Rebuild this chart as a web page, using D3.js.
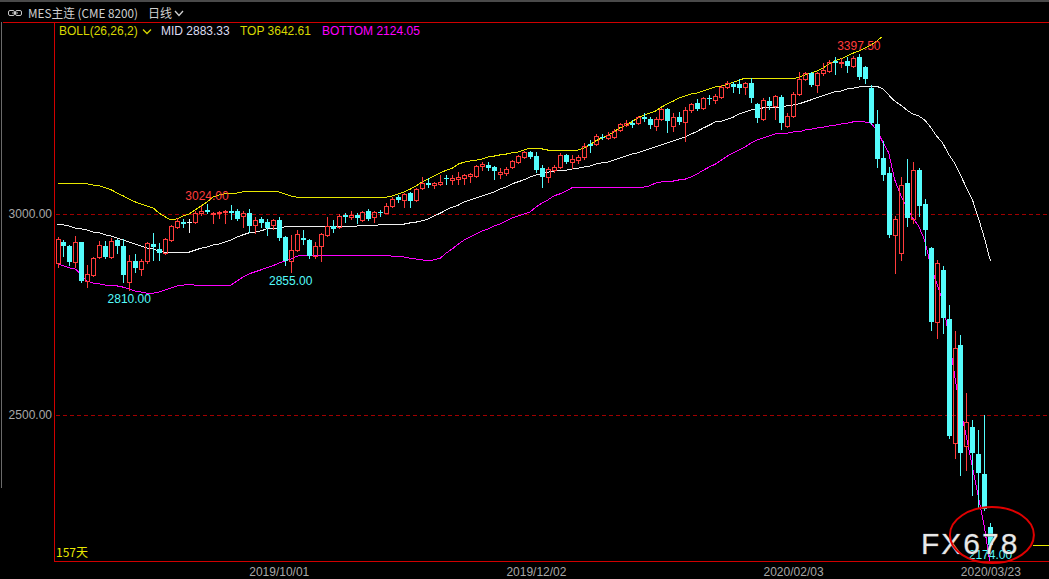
<!DOCTYPE html>
<html><head><meta charset="utf-8">
<script src="https://cdn.jsdelivr.net/npm/d3@7/dist/d3.min.js"></script>
<style>html,body{margin:0;padding:0;background:#000;overflow:hidden}</style>
</head><body><svg id="c" width="1049" height="579"></svg>
<script>
// ---------- DATA (MES daily, 157 bars) ----------
const openP = [2878,2930,2920,2881,2930,2833,2848,2893,2920,2893,
 2935,2920,2831,2883,2863,2883,2925,2913,2903,2935,
 2968,2980,2980,2980,3002,3010,3000,3003,3005,3008,
 3007,2995,3003,2973,2988,2980,2973,2985,2943,2883,
 2910,2940,2935,2895,2920,2948,2970,2968,2997,2992,
 2998,2985,3007,2993,3005,3003,3020,3042,3035,3052,
 3035,3065,3077,3072,3075,3090,3085,3087,3090,3095,
 3095,3119,3122,3117,3100,3102,3117,3129,3142,3154,
 3144,3114,3092,3109,3117,3147,3129,3134,3142,3174,
 3174,3192,3189,3192,3209,3221,3226,3226,3241,3236,
 3219,3236,3261,3219,3241,3229,3259,3276,3264,3289,
 3284,3291,3316,3323,3323,3316,3326,3274,3236,3281,
 3269,3291,3219,3244,3299,3336,3351,3321,3351,3356,
 3381,3376,3381,3369,3391,3366,3313,3224,3139,3102,
 2948,2903,3077,2988,3109,3025,2915,2731,2861,2739,
 2430,2674,2423,2470,2403,2353,2221];
const highP = [2943,2935,2923,2945,2931,2873,2893,2933,2933,2940,
 2938,2938,2898,2900,2888,2930,2953,2928,2940,2973,
 2990,2988,2988,3007,3021,3024,3004,3008,3010,3022,
 3012,3008,3012,2993,2993,2988,2988,2993,2945,2948,
 2960,2960,2938,2930,2953,2993,2985,3000,3002,3008,
 3002,3008,3012,3007,3010,3027,3042,3047,3052,3054,
 3065,3092,3090,3080,3097,3097,3097,3104,3099,3102,
 3122,3129,3129,3119,3114,3117,3134,3147,3157,3157,
 3154,3122,3117,3122,3152,3149,3147,3147,3177,3184,
 3199,3199,3204,3211,3226,3234,3234,3244,3251,3241,
 3241,3264,3264,3251,3254,3266,3276,3286,3291,3296,
 3298,3321,3331,3328,3336,3328,3338,3276,3289,3291,
 3296,3296,3251,3303,3353,3353,3353,3353,3376,3383,
 3390,3388,3390,3393,3397.5,3369,3321,3259,3182,3117,
 2995,3092,3137,3129,3114,3037,2918,2886,2871,2774,
 2709,2699,2555,2488,2463,2500,2231];
const lowP = [2868,2896,2873,2868,2831,2818,2846,2890,2890,2890,
 2903,2831,2810,2856,2848,2878,2886,2886,2900,2933,
 2965,2968,2955,2978,2998,3002,2978,2990,2978,2988,
 2985,2968,2955,2953,2968,2948,2963,2935,2873,2855,
 2908,2925,2890,2890,2883,2945,2955,2965,2980,2988,
 2978,2983,2985,2980,2995,3002,3017,3030,3017,3017,
 3032,3062,3067,3065,3072,3075,3075,3075,3075,3080,
 3092,3109,3109,3087,3089,3097,3114,3127,3139,3139,
 3104,3067,3080,3104,3114,3127,3114,3127,3137,3154,
 3172,3186,3186,3189,3206,3219,3216,3224,3231,3214,
 3209,3234,3204,3206,3224,3182,3254,3259,3261,3274,
 3276,3288,3313,3303,3301,3298,3279,3229,3234,3261,
 3236,3211,3216,3241,3296,3333,3318,3303,3346,3353,
 3348,3366,3353,3366,3336,3326,3224,3117,3085,2943,
 2853,2886,2970,2978,2995,2898,2711,2691,2704,2443,
 2393,2351,2363,2300,2268,2264,2174];
const closeP = [2938,2920,2881,2930,2833,2851,2890,2923,2893,2933,
 2920,2848,2883,2866,2883,2928,2918,2903,2938,2970,
 2983,2975,2980,3002,3008,3005,3003,3005,3008,3003,
 2988,3003,2970,2985,2978,2965,2985,2940,2883,2910,
 2950,2935,2895,2920,2950,2970,2963,2995,2992,2998,
 2990,3005,2988,3005,3003,3020,3037,3035,3050,3032,
 3062,3077,3072,3077,3079,3087,3090,3092,3097,3100,
 3119,3124,3114,3107,3104,3112,3132,3144,3154,3142,
 3109,3092,3112,3117,3147,3129,3137,3142,3169,3169,
 3194,3189,3197,3206,3224,3226,3221,3241,3236,3221,
 3236,3261,3231,3241,3229,3259,3274,3261,3289,3286,
 3294,3316,3326,3316,3313,3326,3289,3239,3284,3269,
 3294,3226,3244,3299,3336,3351,3321,3351,3358,3378,
 3376,3378,3369,3388,3341,3336,3226,3137,3097,2948,
 2988,3072,2990,3109,3020,2960,2731,2878,2741,2448,
 2667,2405,2482,2405,2356,2266,2177];
const bollMid = [2975,2973,2970,2965,2963,2960,2955,2953,2948,2945,
 2940,2935,2930,2925,2920,2915,2913,2908,2905,2903,
 2903,2903,2905,2910,2915,2918,2923,2925,2930,2935,
 2943,2948,2953,2955,2958,2963,2965,2965,2968,2968,
 2970,2970,2970,2970,2970,2970,2970,2970,2970,2970,
 2970,2971,2972,2972,2973,2973,2973,2975,2975,2978,
 2980,2983,2988,2995,3002,3010,3017,3022,3030,3035,
 3040,3045,3050,3055,3062,3067,3075,3080,3085,3092,
 3097,3100,3104,3107,3109,3109,3112,3114,3117,3119,
 3124,3127,3129,3134,3139,3144,3149,3152,3157,3162,
 3167,3172,3177,3182,3187,3192,3199,3206,3214,3221,
 3229,3231,3236,3241,3249,3254,3259,3261,3264,3264,
 3266,3266,3269,3271,3274,3279,3284,3289,3294,3299,
 3304,3306,3311,3313,3316,3316,3318,3318,3311,3296,
 3281,3271,3259,3249,3244,3234,3216,3194,3177,3149,
 3127,3097,3065,3035,2990,2940,2883.33];
const bollTop = [3077,3077,3077,3077,3077,3075,3072,3070,3065,3060,
 3052,3045,3037,3030,3025,3020,3015,3002,2993,2985,
 2988,2995,3000,3010,3020,3030,3042,3047,3050,3052,
 3052,3055,3055,3055,3057,3057,3057,3055,3050,3045,
 3042,3042,3042,3042,3042,3042,3042,3042,3042,3042,
 3042,3042,3042,3042,3042,3042,3045,3050,3055,3062,
 3070,3080,3087,3095,3102,3109,3114,3124,3129,3132,
 3134,3137,3142,3144,3147,3149,3152,3154,3159,3164,
 3164,3162,3159,3157,3157,3157,3157,3159,3164,3172,
 3182,3189,3196,3204,3214,3221,3229,3239,3246,3251,
 3256,3266,3274,3281,3289,3294,3299,3301,3306,3311,
 3316,3318,3323,3328,3333,3338,3338,3338,3336,3336,
 3336,3336,3336,3336,3341,3346,3351,3356,3363,3373,
 3381,3386,3393,3400,3405,3413,3420,3430,3443,3460,
 3480,3495,3505,3512,3515,3525,3545,3560,3570,3590,
 3600,3612,3620,3628,3636,3640,3642.61];
const bollBottom = [2876,2871,2866,2863,2848,2833,2828,2826,2823,2821,
 2821,2818,2813,2808,2806,2803,2803,2806,2811,2816,
 2821,2823,2826,2823,2821,2821,2821,2821,2823,2823,
 2833,2843,2851,2856,2861,2866,2871,2878,2883,2888,
 2895,2898,2898,2898,2898,2898,2898,2898,2898,2898,
 2898,2898,2898,2898,2898,2898,2895,2895,2893,2890,
 2888,2886,2883,2886,2890,2903,2913,2925,2935,2943,
 2950,2958,2963,2970,2975,2983,2990,2995,3000,3005,
 3017,3027,3035,3045,3050,3057,3065,3067,3067,3067,
 3067,3067,3067,3067,3067,3067,3067,3067,3067,3070,
 3077,3080,3082,3082,3085,3087,3092,3100,3109,3117,
 3124,3134,3144,3152,3159,3167,3177,3184,3189,3194,
 3199,3201,3201,3204,3204,3209,3211,3214,3216,3219,
 3221,3224,3226,3229,3229,3229,3226,3209,3179,3152,
 3085,3047,3017,2990,2970,2935,2873,2828,2786,2699,
 2600,2512,2445,2371,2296,2221,2124.05];
const yTicks = [2500, 3000];
const dateTickIdx = [37, 80, 123, 156];
const dateTickLabels = ["2019/10/01", "2019/12/02", "2020/02/03", "2020/03/23"];
const highMarkIdx = [25, 134];
const lowMarkIdx = [12, 39, 156];
const bollParams = "BOLL(26,26,2)";
const titleText = "MES主连 (CME 8200)";
const periodText = "日线";
const dayCount = "157天";

// ---------- DRAW ----------
const W = 1049, H = 579;
const P = {l: 54, t: 22, r: 1049, b: 561, clipTop: 37};
const N = openP.length;
const RED = "#ff3c3c", CYAN = "#54fcfc", FONT = '"Liberation Sans", Arial, sans-serif';
const x = d3.scaleLinear().domain([0, N - 1]).range([57.5, 990.4]);
const y = d3.scaleLinear().domain([2500, 3000]).range([415, 214]);
const fmt = d3.format(".2f");

const svg = d3.select("#c").style("font-family", FONT);
svg.append("rect").attr("width", W).attr("height", H).attr("fill", "#000");
svg.append("rect").attr("x", 0).attr("y", 0).attr("width", W).attr("height", 2).attr("fill", "#4a4a4a");

// title bar
const tb = svg.append("g").attr("stroke", "#c8c8c8").attr("fill", "none").attr("stroke-width", 1);
tb.append("rect").attr("x", 8.5).attr("y", 10.5).attr("width", 6).attr("height", 5).attr("rx", 1.5);
tb.append("rect").attr("x", 15.5).attr("y", 10.5).attr("width", 6).attr("height", 5).attr("rx", 1.5);
tb.append("line").attr("x1", 12).attr("x2", 18).attr("y1", 13).attr("y2", 13);
svg.append("text").attr("x", 28).attr("y", 18).attr("fill", "#d0d0d0")
  .attr("textLength", 110).attr("lengthAdjust", "spacingAndGlyphs")
  .style("font", '12px "Noto Sans CJK SC", sans-serif').text(titleText);
svg.append("text").attr("x", 148).attr("y", 18).attr("fill", "#d0d0d0")
  .style("font", '12px "Noto Sans CJK SC", sans-serif').text(periodText);
svg.append("path").attr("d", "M175,11 L179,15.5 L183,11").attr("stroke", "#d0d0d0").attr("fill", "none").attr("stroke-width", 1.3);

// frame
svg.append("line").attr("x1", 1.5).attr("x2", 1.5).attr("y1", 22).attr("y2", 488).attr("stroke", "#6a6a6a");
svg.append("line").attr("x1", 3).attr("x2", W).attr("y1", 22.5).attr("y2", 22.5).attr("stroke", "#d00000");
svg.append("line").attr("x1", P.l + 0.5).attr("x2", P.l + 0.5).attr("y1", 22).attr("y2", P.b + 1).attr("stroke", "#d00000");
svg.append("line").attr("x1", P.l).attr("x2", W).attr("y1", P.b + 0.5).attr("y2", P.b + 0.5).attr("stroke", "#d00000");

// grid
svg.append("g").selectAll("line").data(yTicks).join("line")
  .attr("x1", P.l + 2).attr("x2", P.r)
  .attr("y1", d => Math.round(y(d)) + 0.5).attr("y2", d => Math.round(y(d)) + 0.5)
  .attr("stroke", "#a00000").attr("stroke-dasharray", "4,3");

// axes
const gy = svg.append("g").attr("transform", "translate(53,0)")
  .call(d3.axisLeft(y).tickValues(yTicks).tickFormat(fmt).tickSize(0).tickPadding(1));
gy.select(".domain").remove();
gy.selectAll("text").attr("fill", "#a8a8a8").style("font", "12px " + FONT);

const gx = svg.append("g").attr("transform", `translate(0,${P.b})`)
  .call(d3.axisBottom(x).tickValues(dateTickIdx).tickFormat((d, i) => dateTickLabels[i]).tickSize(0).tickPadding(6));
gx.select(".domain").remove();
gx.selectAll("text").attr("fill", "#a8a8a8").style("font", "12px " + FONT);

// clip
svg.append("clipPath").attr("id", "clip").append("rect")
  .attr("x", P.l + 1).attr("y", P.clipTop).attr("width", P.r - P.l).attr("height", P.b - P.clipTop);
const plot = svg.append("g").attr("clip-path", "url(#clip)");

// bollinger lines
const idx = d3.range(N);
const lineOf = arr => d3.line().x(i => x(i)).y(i => y(arr[i]))(idx);
[[bollTop, "#e8e800"], [bollMid, "#f0f0f0"], [bollBottom, "#ff00ff"]].forEach(([arr, col]) => {
  plot.append("path").attr("d", lineOf(arr)).attr("fill", "none").attr("stroke", col)
    .attr("stroke-width", 1).attr("shape-rendering", "crispEdges");
});

// candles
const cg = plot.append("g").attr("shape-rendering", "crispEdges");
idx.forEach(i => {
  const o = openP[i], h = highP[i], l = lowP[i], c = closeP[i];
  const cx = Math.round(x(i));
  const yH = Math.round(y(h)), yL = Math.round(y(l));
  const yT = Math.round(y(Math.max(o, c))), yB = Math.round(y(Math.min(o, c)));
  if (c > o) {
    cg.append("line").attr("x1", cx + 0.5).attr("x2", cx + 0.5).attr("y1", yH).attr("y2", yT).attr("stroke", RED);
    cg.append("line").attr("x1", cx + 0.5).attr("x2", cx + 0.5).attr("y1", yB).attr("y2", yL + 1).attr("stroke", RED);
    cg.append("rect").attr("x", cx - 1.5).attr("y", yT + 0.5).attr("width", 4).attr("height", Math.max(yB - yT, 1))
      .attr("fill", "none").attr("stroke", RED);
  } else if (c < o) {
    cg.append("line").attr("x1", cx + 0.5).attr("x2", cx + 0.5).attr("y1", yH).attr("y2", yL + 1).attr("stroke", CYAN);
    cg.append("rect").attr("x", cx - 2).attr("y", yT).attr("width", 5).attr("height", Math.max(yB - yT, 1)).attr("fill", CYAN);
  } else {
    cg.append("line").attr("x1", cx + 0.5).attr("x2", cx + 0.5).attr("y1", yH).attr("y2", yL + 1).attr("stroke", "#f0f0f0");
    cg.append("line").attr("x1", cx - 2).attr("x2", cx + 3).attr("y1", yT + 0.5).attr("y2", yT + 0.5).attr("stroke", "#f0f0f0");
  }
});

// last price marker
svg.append("line").attr("x1", 1033).attr("x2", W).attr("y1", Math.round(y(closeP[N - 1])) + 0.5).attr("y2", Math.round(y(closeP[N - 1])) + 0.5)
  .attr("stroke", "#e8e800");

// extreme labels
svg.append("g").selectAll("text").data(highMarkIdx).join("text")
  .attr("x", i => x(i)).attr("y", i => y(highP[i]) - 4).attr("text-anchor", "middle")
  .attr("fill", RED).style("font", "12px " + FONT).text(i => fmt(highP[i]));
svg.append("g").selectAll("text").data(lowMarkIdx).join("text")
  .attr("x", i => x(i)).attr("y", i => y(lowP[i]) + 13).attr("text-anchor", "middle")
  .attr("fill", CYAN).style("font", "12px " + FONT).text(i => fmt(lowP[i]));

// legend
const lg = svg.append("g").style("font", "12px " + FONT);
lg.append("text").attr("x", 59).attr("y", 35).attr("fill", "#d8d800").text(bollParams);
lg.append("path").attr("d", "M143,29.5 L147,33.5 L151,29.5").attr("stroke", "#d8d800").attr("fill", "none").attr("stroke-width", 1.3);
lg.append("text").attr("x", 161).attr("y", 35).attr("fill", "#dcdcf0").text("MID " + fmt(bollMid[N - 1]));
lg.append("text").attr("x", 240).attr("y", 35).attr("fill", "#d8d800").text("TOP " + fmt(bollTop[N - 1]));
lg.append("text").attr("x", 322).attr("y", 35).attr("fill", "#ff00ff").text("BOTTOM " + fmt(bollBottom[N - 1]));

svg.append("text").attr("x", 56).attr("y", 557).attr("fill", "#e8e800")
  .style("font", '12px "Noto Sans CJK SC", sans-serif').text(dayCount);

// watermark + annotation
svg.append("text").attr("x", 921).attr("y", 554).attr("fill", "#e8e8e8")
  .attr("stroke", "#606060").attr("stroke-width", 0.6).attr("paint-order", "stroke")
  .style("font", "30px " + FONT).style("letter-spacing", "2px").text("FX678");
svg.append("ellipse").attr("cx", x(N - 1) + 1.5).attr("cy", y(lowP[N - 1]) - 11).attr("rx", 42).attr("ry", 28)
  .attr("fill", "none").attr("stroke", "#e00000").attr("stroke-width", 2);
</script></body></html>
